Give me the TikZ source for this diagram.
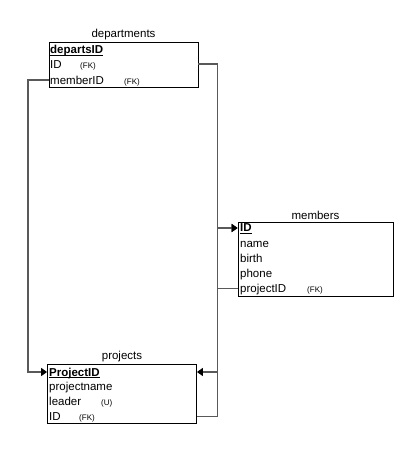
\documentclass[tikz,border=0pt]{standalone}
\usepackage{fontspec}
\setmainfont{Liberation Sans}
\usetikzlibrary{arrows.meta}
\newcommand{\keyul}[1]{\setbox0\hbox{#1}\rlap{\vrule width\wd0 height -1.1pt depth 2pt}\box0}
\tikzset{
	tbl/.style={draw=black,line width=.8pt,inner sep=0pt},
	ttl/.style={anchor=south,inner sep=1.5pt,font=\fontsize{11.5}{12}\selectfont},
	fld/.style={anchor=base west,inner sep=0pt,font=\fontsize{11.5}{12}\selectfont},
	key/.style={fld,font=\fontsize{11.5}{12}\selectfont\bfseries},
	tag/.style={anchor=base west,inner sep=0pt,font=\fontsize{8}{9}\selectfont},
	conn/.style={draw=black!65,line width=1.3pt},
	ref/.style={conn,-{Triangle[length=6pt,width=8pt,black]}}
}
\begin{document}
\begin{tikzpicture}[x=1pt,y=-1pt,line cap=butt,line join=miter]
	\useasboundingbox (0,0) rectangle (414,450);
	% departments
	\node[tbl,minimum width=149pt,minimum height=45pt] (dep) at (123.5,64.5) {};
	\node[ttl] at (dep.north) {departments};
	\node[key] (dkey) at (50,53.5) {\keyul{departsID}};
	\node[fld] (did) at (50,68) {ID};
	\node[tag] at (80,68) {(FK)};
	\node[fld] (dmem) at (50,84) {memberID};
	\node[tag] at (124,84) {(FK)};
	% members
	\node[tbl,minimum width=155pt,minimum height=74pt] (mem) at (315.5,259) {};
	\node[ttl] at (mem.north) {members};
	\node[key] (mkey) at (240,231.5) {\keyul{ID}};
	\node[fld] (mname) at (240,247) {name};
	\node[fld] (mbirth) at (240,262) {birth};
	\node[fld] (mphone) at (240,277) {phone};
	\node[fld] (mproj) at (240,292.5) {projectID};
	\node[tag] at (307,292.5) {(FK)};
	% projects
	\node[tbl,minimum width=149pt,minimum height=59pt] (prj) at (122,393.5) {};
	\node[ttl] at (prj.north) {projects};
	\node[key] (pkey) at (49,376) {\keyul{ProjectID}};
	\node[fld] (pname) at (49,390.5) {projectname};
	\node[fld] (plead) at (49,405.5) {leader};
	\node[tag] at (101,405.5) {(U)};
	\node[fld] (pid) at (49,420.5) {ID};
	\node[tag] at (79,420.5) {(FK)};
	% bends
	\coordinate (rbus) at (217.5,0);
	\coordinate (lbus) at (28,0);
	\coordinate (dcy) at (0,64);
	\coordinate (dmy) at (0,80);
	\coordinate (mky) at (0,228);
	\coordinate (mpy) at (0,288.5);
	\coordinate (pky) at (0,372);
	\coordinate (piy) at (0,416.5);
	\draw[ref] (dep.east |- dcy) -- (rbus |- dcy) -- (rbus |- mky) -- (mem.west |- mky);
	\draw[ref] (prj.east |- piy) -- (rbus |- piy) -- (rbus |- mky) -- (mem.west |- mky);
	\draw[ref] (mem.west |- mpy) -- (rbus |- mpy) -- (rbus |- pky) -- (prj.east |- pky);
	\draw[ref] (dep.west |- dmy) -- (lbus |- dmy) -- (lbus |- pky) -- (prj.west |- pky);
\end{tikzpicture}
\end{document}
